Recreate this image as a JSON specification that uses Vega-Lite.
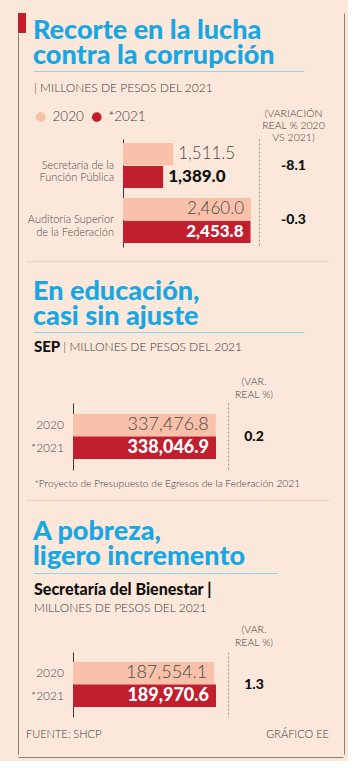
{
  "$schema": "https://vega.github.io/schema/vega-lite/v6.json",
  "background": "#fce8da",
  "padding": {"left": 15, "top": 13, "right": 0, "bottom": 0},
  "config": {
    "view": {"stroke": null},
    "font": "Lato",
    "axis": {"labelFont": "Lato", "titleFont": "Lato"},
    "title": {"font": "Lato", "anchor": "start"},
    "locale": {"number": {"decimal": ".", "thousands": ",", "grouping": [3], "currency": ["$", ""], "minus": "-"}}
  },
  "spacing": 0,
  "vconcat": [
    {
      "spacing": 0,
      "hconcat": [
        {
          "spacing": 0,
          "vconcat": [
            {
              "width": 8, "height": 20,
              "view": {"fill": "#c41e2c", "stroke": null},
              "data": {"values": []},
              "mark": {"type": "point", "opacity": 0},
              "encoding": {}
            },
            {
              "width": 1, "height": 721,
              "data": {"values": [{"k": "marco"}]},
              "mark": {"type": "point", "opacity": 0},
              "encoding": {
                "y": {"field": "k", "type": "nominal", "axis": {"orient": "left", "title": null, "labels": false, "ticks": false, "domainColor": "#8f7f73", "domainWidth": 1}}
              }
            }
          ]
        },
        {
          "spacing": 12,
          "hconcat": [
            {
              "spacing": 0,
              "resolve": {"scale": {"color": "independent"}, "legend": {"color": "independent"}},
              "vconcat": [
                {
                  "width": 1, "height": 4,
                  "data": {"values": []},
                  "mark": {"type": "point", "opacity": 0},
                  "encoding": {}
                },
                {
                  "spacing": 0,
                  "hconcat": [
                    {"width": 7, "height": 10, "data": {"values": []}, "mark": {"type": "point", "opacity": 0}, "encoding": {}},
                    {
                      "width": 271, "height": 10,
                      "title": {"text": ["Recorte en la lucha", "contra la corrupción"], "fontSize": 27, "fontWeight": 900, "color": "#18a7e2", "lineHeight": 25, "offset": 1},
                      "data": {"values": [{"k": "linea"}]},
                      "mark": {"type": "point", "opacity": 0},
                      "encoding": {"x": {"field": "k", "type": "nominal", "axis": {"orient": "top", "title": null, "labels": false, "ticks": false, "domainColor": "#93d1e8", "domainWidth": 1.2}}}
                    }
                  ]
                },
                {
                  "spacing": 0,
                  "title": {"text": "| MILLONES DE PESOS DEL 2021", "fontSize": 12, "fontWeight": 300, "color": "#3a3a3a", "offset": 14, "dx": 8},
                  "hconcat": [
                    {
                      "width": 97, "height": 108,
                      "data": {"values": [
                        {"entidad": "Secretaría de la|Función Pública"},
                        {"entidad": "Auditoría Superior|de la Federación"}
                      ]},
                      "mark": {"type": "text", "align": "right", "dx": -9, "lineBreak": "|", "lineHeight": 12.5, "fontSize": 11, "fontWeight": 300, "color": "#4a4a4a"},
                      "encoding": {
                        "y": {"field": "entidad", "type": "nominal", "sort": null, "scale": {"type": "band", "paddingInner": 0.18, "paddingOuter": 0.073}, "axis": null},
                        "x": {"value": "width"},
                        "text": {"field": "entidad", "type": "nominal"}
                      }
                    },
                    {
                      "width": 136, "height": 108,
                      "data": {"values": [
                        {"entidad": "Secretaría de la|Función Pública", "anio": "2020", "monto": 1511.5},
                        {"entidad": "Secretaría de la|Función Pública", "anio": "*2021", "monto": 1389.0},
                        {"entidad": "Auditoría Superior|de la Federación", "anio": "2020", "monto": 2460.0},
                        {"entidad": "Auditoría Superior|de la Federación", "anio": "*2021", "monto": 2453.8}
                      ]},
                      "encoding": {
                        "y": {"field": "entidad", "type": "nominal", "sort": null, "scale": {"type": "band", "paddingInner": 0.18, "paddingOuter": 0.073}, "axis": {"title": null, "labels": false, "ticks": false, "domainColor": "#3a3a3a"}},
                        "yOffset": {"field": "anio", "type": "nominal", "scale": {"domain": ["2020", "*2021"], "paddingInner": 0.03}},
                        "x": {"field": "monto", "type": "quantitative", "scale": {"domain": [900, 2557], "nice": false, "zero": false, "clamp": true}, "axis": null}
                      },
                      "layer": [
                        {
                          "mark": {"type": "bar"},
                          "encoding": {"color": {"field": "anio", "type": "nominal", "scale": {"domain": ["2020", "*2021"], "range": ["#f9c1a9", "#c11f2e"]}, "legend": {"orient": "none", "legendX": 8, "legendY": -29, "direction": "horizontal", "title": null, "symbolType": "circle", "symbolSize": 95, "symbolStrokeWidth": 0, "labelFontSize": 13.5, "labelFontWeight": 300, "labelColor": "#3a3a3a", "labelFont": "Lato", "columnPadding": 6, "labelOffset": 5}}}
                        },
                        {
                          "transform": [{"filter": "datum.anio === '2020' && datum.monto < 2000"}],
                          "mark": {"type": "text", "align": "left", "dx": 5, "fontSize": 17, "fontWeight": 300, "color": "#4a4a4a"},
                          "encoding": {"text": {"field": "monto", "type": "quantitative", "format": ",.1f"}}
                        },
                        {
                          "transform": [{"filter": "datum.anio === '*2021' && datum.monto < 2000"}],
                          "mark": {"type": "text", "align": "left", "dx": 5, "fontSize": 17, "fontWeight": 900, "color": "#111111"},
                          "encoding": {"text": {"field": "monto", "type": "quantitative", "format": ",.1f"}}
                        },
                        {
                          "transform": [{"filter": "datum.anio === '2020' && datum.monto >= 2000"}],
                          "mark": {"type": "text", "align": "right", "dx": -7, "fontSize": 17, "fontWeight": 300, "color": "#4a4a4a"},
                          "encoding": {"text": {"field": "monto", "type": "quantitative", "format": ",.1f"}}
                        },
                        {
                          "transform": [{"filter": "datum.anio === '*2021' && datum.monto >= 2000"}],
                          "mark": {"type": "text", "align": "right", "dx": -7, "fontSize": 17, "fontWeight": 900, "color": "#ffffff"},
                          "encoding": {"text": {"field": "monto", "type": "quantitative", "format": ",.1f"}}
                        }
                      ]
                    },
                    {
                      "width": 69, "height": 108,
                      "title": {"text": ["(VARIACIÓN", "REAL % 2020", "VS 2021)"], "anchor": "middle", "fontSize": 10.5, "fontWeight": 300, "lineHeight": 12, "color": "#3a3a3a", "offset": -4},
                      "data": {"values": [
                        {"entidad": "Secretaría de la|Función Pública", "variacion": -8.1},
                        {"entidad": "Auditoría Superior|de la Federación", "variacion": -0.3}
                      ]},
                      "mark": {"type": "text", "fontSize": 14, "fontWeight": 900, "color": "#111111"},
                      "encoding": {
                        "y": {"field": "entidad", "type": "nominal", "sort": null, "scale": {"type": "band", "paddingInner": 0.18, "paddingOuter": 0.073}, "axis": {"title": null, "labels": false, "ticks": false, "domainColor": "#a0948b", "domainDash": [2, 2]}},
                        "text": {"field": "variacion", "type": "quantitative", "format": ".1f"}
                      }
                    }
                  ]
                },
                {
                  "width": 303, "height": 31,
                  "data": {"values": [{"k": "separador"}]},
                  "mark": {"type": "point", "opacity": 0},
                  "encoding": {"y": {"field": "k", "type": "nominal", "scale": {"type": "point", "align": 0.45}, "axis": {"grid": true, "gridColor": "#f1d5c2", "gridWidth": 1.5, "domain": false, "ticks": false, "labels": false, "title": null}}}
                },
                {
                  "spacing": 0,
                  "hconcat": [
                    {"width": 7, "height": 7, "data": {"values": []}, "mark": {"type": "point", "opacity": 0}, "encoding": {}},
                    {
                      "width": 271, "height": 7,
                      "title": {"text": ["En educación,", "casi sin ajuste"], "fontSize": 27, "fontWeight": 900, "color": "#18a7e2", "lineHeight": 25, "offset": 1},
                      "data": {"values": [{"k": "linea"}]},
                      "mark": {"type": "point", "opacity": 0},
                      "encoding": {"x": {"field": "k", "type": "nominal", "axis": {"orient": "top", "title": null, "labels": false, "ticks": false, "domainColor": "#93d1e8", "domainWidth": 1.2}}}
                    }
                  ]
                },
                {
                  "spacing": 0,
                  "title": {"text": "SEP", "subtitle": "\u200b\u00a0\u00a0\u00a0\u00a0\u00a0\u00a0\u00a0\u00a0\u00a0| MILLONES DE PESOS DEL 2021", "fontSize": 15, "fontWeight": 900, "color": "#111111", "subtitleFont": "Lato", "subtitleFontWeight": 300, "subtitleFontSize": 12, "subtitleColor": "#3a3a3a", "subtitlePadding": -13, "offset": 22, "dx": 8},
                  "hconcat": [
                    {
                      "width": 47, "height": 67,
                      "data": {"values": [{"anio": "2020"}, {"anio": "*2021"}]},
                      "mark": {"type": "text", "align": "right", "dx": -9, "fontSize": 12, "fontWeight": 300, "color": "#4a4a4a"},
                      "encoding": {
                        "y": {"field": "anio", "type": "nominal", "scale": {"type": "band", "domain": ["2020", "*2021"], "paddingInner": 0, "paddingOuter": 0.49}, "axis": null},
                        "x": {"value": "width"},
                        "text": {"field": "anio", "type": "nominal"}
                      }
                    },
                    {
                      "width": 155, "height": 67,
                      "data": {"values": [
                        {"anio": "2020", "monto": 337476.8},
                        {"anio": "*2021", "monto": 338046.9}
                      ]},
                      "encoding": {
                        "y": {"field": "anio", "type": "nominal", "scale": {"type": "band", "domain": ["2020", "*2021"], "paddingInner": 0, "paddingOuter": 0.49}, "axis": {"title": null, "labels": false, "ticks": false, "domainColor": "#3a3a3a"}},
                        "x": {"field": "monto", "type": "quantitative", "scale": {"domain": [0, 366400], "nice": false}, "axis": null}
                      },
                      "layer": [
                        {"mark": {"type": "bar"}, "encoding": {"color": {"field": "anio", "type": "nominal", "scale": {"domain": ["2020", "*2021"], "range": ["#f9c1a9", "#c11f2e"]}, "legend": null}}},
                        {
                          "transform": [{"filter": "datum.anio === '2020'"}],
                          "mark": {"type": "text", "align": "right", "dx": -7, "fontSize": 18, "fontWeight": 300, "color": "#4a4a4a"},
                          "encoding": {"text": {"field": "monto", "type": "quantitative", "format": ",.1f"}}
                        },
                        {
                          "transform": [{"filter": "datum.anio === '*2021'"}],
                          "mark": {"type": "text", "align": "right", "dx": -7, "fontSize": 18, "fontWeight": 900, "color": "#ffffff"},
                          "encoding": {"text": {"field": "monto", "type": "quantitative", "format": ",.1f"}}
                        }
                      ]
                    },
                    {
                      "width": 52, "height": 67,
                      "title": {"text": ["(VAR.", "REAL %)"], "anchor": "middle", "fontSize": 10.5, "fontWeight": 300, "lineHeight": 13, "color": "#3a3a3a", "offset": 3},
                      "data": {"values": [{"serie": "SEP", "variacion": 0.2}]},
                      "mark": {"type": "text", "fontSize": 14, "fontWeight": 900, "color": "#111111"},
                      "encoding": {
                        "y": {"field": "serie", "type": "nominal", "scale": {"type": "band"}, "axis": {"title": null, "labels": false, "ticks": false, "domainColor": "#a0948b", "domainDash": [2, 2]}},
                        "text": {"field": "variacion", "type": "quantitative", "format": ".1f"}
                      }
                    }
                  ]
                },
                {
                  "spacing": 0,
                  "hconcat": [
                    {"width": 8, "height": 8, "data": {"values": []}, "mark": {"type": "point", "opacity": 0}, "encoding": {}},
                    {
                      "width": 295, "height": 8,
                      "data": {"values": [{"k": "nota"}]},
                      "mark": {"type": "point", "opacity": 0},
                      "encoding": {"x": {"field": "k", "type": "nominal", "axis": {"orient": "bottom", "domain": false, "labels": false, "ticks": false, "title": "*Proyecto de Presupuesto de Egresos de la Federación 2021", "titleAnchor": "start", "titleFontWeight": 300, "titleFontSize": 10.2, "titleColor": "#3a3a3a", "titlePadding": 0}}}
                    }
                  ]
                },
                {
                  "width": 303, "height": 28.5,
                  "data": {"values": [{"k": "separador"}]},
                  "mark": {"type": "point", "opacity": 0},
                  "encoding": {"y": {"field": "k", "type": "nominal", "scale": {"type": "point", "align": 0.37}, "axis": {"grid": true, "gridColor": "#f1d5c2", "gridWidth": 1.5, "domain": false, "ticks": false, "labels": false, "title": null}}}
                },
                {
                  "spacing": 0,
                  "hconcat": [
                    {"width": 7, "height": 8, "data": {"values": []}, "mark": {"type": "point", "opacity": 0}, "encoding": {}},
                    {
                      "width": 244, "height": 8,
                      "title": {"text": ["A pobreza,", "ligero incremento"], "fontSize": 27, "fontWeight": 900, "color": "#18a7e2", "lineHeight": 25, "offset": 2},
                      "data": {"values": [{"k": "linea"}]},
                      "mark": {"type": "point", "opacity": 0},
                      "encoding": {"x": {"field": "k", "type": "nominal", "axis": {"orient": "top", "title": null, "labels": false, "ticks": false, "domainColor": "#93d1e8", "domainWidth": 1.2}}}
                    }
                  ]
                },
                {
                  "spacing": 0,
                  "title": {"text": "Secretaría del Bienestar |", "subtitle": "MILLONES DE PESOS DEL 2021", "fontSize": 16, "fontWeight": 900, "color": "#111111", "subtitleFont": "Lato", "subtitleFontWeight": 300, "subtitleFontSize": 12, "subtitleColor": "#3a3a3a", "subtitlePadding": 5, "offset": 11, "dx": 8},
                  "hconcat": [
                    {
                      "width": 47, "height": 65,
                      "data": {"values": [{"anio": "2020"}, {"anio": "*2021"}]},
                      "mark": {"type": "text", "align": "right", "dx": -9, "fontSize": 12, "fontWeight": 300, "color": "#4a4a4a"},
                      "encoding": {
                        "y": {"field": "anio", "type": "nominal", "scale": {"type": "band", "domain": ["2020", "*2021"], "paddingInner": 0, "paddingOuter": 0.45}, "axis": null},
                        "x": {"value": "width"},
                        "text": {"field": "anio", "type": "nominal"}
                      }
                    },
                    {
                      "width": 155, "height": 65,
                      "data": {"values": [
                        {"anio": "2020", "monto": 187554.1},
                        {"anio": "*2021", "monto": 189970.6}
                      ]},
                      "encoding": {
                        "y": {"field": "anio", "type": "nominal", "scale": {"type": "band", "domain": ["2020", "*2021"], "paddingInner": 0, "paddingOuter": 0.45}, "axis": {"title": null, "labels": false, "ticks": false, "domainColor": "#3a3a3a"}},
                        "x": {"field": "monto", "type": "quantitative", "scale": {"domain": [0, 205900], "nice": false}, "axis": null}
                      },
                      "layer": [
                        {"mark": {"type": "bar"}, "encoding": {"color": {"field": "anio", "type": "nominal", "scale": {"domain": ["2020", "*2021"], "range": ["#f9c1a9", "#c11f2e"]}, "legend": null}}},
                        {
                          "transform": [{"filter": "datum.anio === '2020'"}],
                          "mark": {"type": "text", "align": "right", "dx": -7, "fontSize": 18, "fontWeight": 300, "color": "#4a4a4a"},
                          "encoding": {"text": {"field": "monto", "type": "quantitative", "format": ",.1f"}}
                        },
                        {
                          "transform": [{"filter": "datum.anio === '*2021'"}],
                          "mark": {"type": "text", "align": "right", "dx": -7, "fontSize": 18, "fontWeight": 900, "color": "#ffffff"},
                          "encoding": {"text": {"field": "monto", "type": "quantitative", "format": ",.1f"}}
                        }
                      ]
                    },
                    {
                      "width": 52, "height": 65,
                      "title": {"text": ["(VAR.", "REAL %)"], "anchor": "middle", "fontSize": 10.5, "fontWeight": 300, "lineHeight": 13, "color": "#3a3a3a", "offset": 4},
                      "data": {"values": [{"serie": "Bienestar", "variacion": 1.3}]},
                      "mark": {"type": "text", "fontSize": 14, "fontWeight": 900, "color": "#111111"},
                      "encoding": {
                        "y": {"field": "serie", "type": "nominal", "scale": {"type": "band"}, "axis": {"title": null, "labels": false, "ticks": false, "domainColor": "#a0948b", "domainDash": [2, 2]}},
                        "text": {"field": "variacion", "type": "quantitative", "format": ".1f"}
                      }
                    }
                  ]
                },
                {
                  "width": 303, "height": 36.5,
                  "data": {"values": [
                    {"texto": "FUENTE: SHCP", "lado": "izquierda"},
                    {"texto": "GRÁFICO EE", "lado": "derecha"}
                  ]},
                  "encoding": {
                    "x": {"field": "lado", "type": "nominal", "scale": {"type": "point", "domain": ["izquierda", "derecha"], "padding": 0}, "axis": null},
                    "text": {"field": "texto", "type": "nominal"}
                  },
                  "layer": [
                    {"transform": [{"filter": "datum.lado === 'izquierda'"}], "mark": {"type": "text", "align": "left", "fontSize": 11, "fontWeight": 300, "color": "#3a3a3a"}},
                    {"transform": [{"filter": "datum.lado === 'derecha'"}], "mark": {"type": "text", "align": "right", "fontSize": 11, "fontWeight": 300, "color": "#3a3a3a"}}
                  ]
                }
              ]
            },
            {
              "width": 1, "height": 741,
              "data": {"values": [{"k": "marco"}]},
              "mark": {"type": "point", "opacity": 0},
              "encoding": {
                "y": {"field": "k", "type": "nominal", "axis": {"orient": "left", "title": null, "labels": false, "ticks": false, "domainColor": "#8f7f73", "domainWidth": 1}}
              }
            }
          ]
        }
      ]
    },
    {
      "width": 325, "height": 1,
      "data": {"values": [{"k": "marco"}]},
      "mark": {"type": "point", "opacity": 0},
      "encoding": {
        "x": {"field": "k", "type": "nominal", "axis": {"orient": "top", "title": null, "labels": false, "ticks": false, "domainColor": "#8f7f73", "domainWidth": 1}}
      }
    }
  ]
}
